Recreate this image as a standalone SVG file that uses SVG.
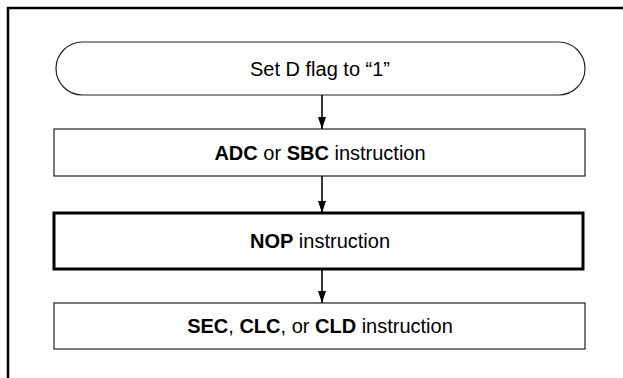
<svg xmlns="http://www.w3.org/2000/svg" width="623" height="378" viewBox="0 0 623 378">
<style>
.box{fill:#fff;stroke:#222;stroke-width:1.2}
.thick{fill:#fff;stroke:#000;stroke-width:3}
.t{font-family:"Liberation Sans",Arial,sans-serif;font-size:20px;fill:#000;text-anchor:middle}
.b{font-weight:bold}
.conn{stroke:#000;stroke-width:1.6;fill:none}
</style>
<defs>
<marker id="ah" viewBox="0 0 12 8" refX="12" refY="4" markerWidth="12" markerHeight="8" markerUnits="userSpaceOnUse" orient="auto">
<path d="M0,0 L12,4 L0,8 Z" fill="#000"/>
</marker>
</defs>
<rect width="623" height="378" fill="#fff"/>
<path d="M8,378 V8 H623" fill="none" stroke="#000" stroke-width="2.5"/>
<g id="start">
<rect x="56" y="42" width="529" height="53" rx="26.5" ry="26.5" class="box"/>
<text x="320" y="75.5" class="t">Set D flag to “1”</text>
</g>
<g id="adc">
<rect x="54" y="129" width="531" height="47" class="box"/>
<text x="320" y="159.5" class="t"><tspan class="b">ADC</tspan> or <tspan class="b">SBC</tspan> instruction</text>
</g>
<g id="nop">
<rect x="54" y="213" width="529" height="56" class="thick"/>
<text x="320" y="248" class="t"><tspan class="b">NOP</tspan> instruction</text>
</g>
<g id="sec">
<rect x="54" y="303" width="531" height="46" class="box"/>
<text x="320" y="333" class="t"><tspan class="b">SEC</tspan>, <tspan class="b">CLC</tspan>, or <tspan class="b">CLD</tspan> instruction</text>
</g>
<g id="connectors">
<path d="M322,95 V129" class="conn" marker-end="url(#ah)"/>
<path d="M322,176 V213" class="conn" marker-end="url(#ah)"/>
<path d="M322,269 V303" class="conn" marker-end="url(#ah)"/>
</g>
</svg>
